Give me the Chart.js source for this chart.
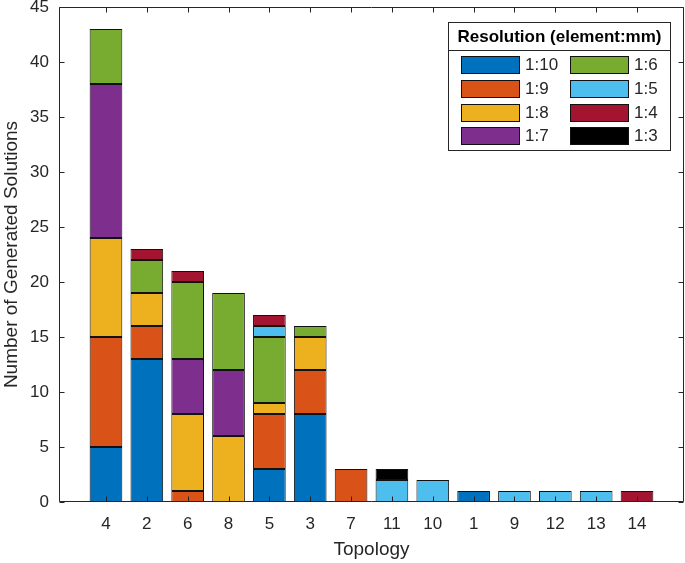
<!DOCTYPE html>
<html>
<head>
<meta charset="utf-8">
<script src="https://cdn.jsdelivr.net/npm/chart.js@4.4.1/dist/chart.umd.min.js"></script>
<style>
  html, body { margin: 0; padding: 0; background: #fff; }
  #wrap { width: 685px; height: 563px; }
</style>
</head>
<body>
<div id="wrap"><canvas id="chart" width="685" height="563"></canvas></div>
<script>
// topology order along the x axis
const topologies = ['4', '2', '6', '8', '5', '3', '7', '11', '10', '1', '9', '12', '13', '14'];

// number of generated solutions per resolution (element:mm), null = none
const res10 = [5, 13, null, null, 3, 8, null, null, null, 1, null, null, null, null];
const res9 = [10, 3, 1, null, 5, 4, 3, null, null, null, null, null, null, null];
const res8 = [9, 3, 7, 6, 1, 3, null, null, null, null, null, null, null, null];
const res7 = [14, null, 5, 6, null, null, null, null, null, null, null, null, null, null];
const res6 = [5, 3, 7, 7, 6, 1, null, null, null, null, null, null, null, null];
const res5 = [null, null, null, null, 1, null, null, 2, 2, null, 1, 1, 1, null];
const res4 = [null, 1, 1, null, 1, null, null, null, null, null, null, null, null, 1];
const res3 = [null, null, null, null, null, null, null, 1, null, null, null, null, null, null];

const seriesLabels = ['1:10', '1:9', '1:8', '1:7', '1:6', '1:5', '1:4', '1:3'];
const seriesColors = ['#0072BD', '#D95319', '#EDB120', '#7E2F8E', '#77AC30', '#4DBEEE', '#A2142F', '#000000'];
const seriesData = [res10, res9, res8, res7, res6, res5, res4, res3];

const yTicks = [0, 5, 10, 15, 20, 25, 30, 35, 40, 45];

const FONT = "'Liberation Sans', Arial, Helvetica, sans-serif";
const AXIS_COLOR = '#262626';
const EDGE_COLOR = '#111111';

const datasets = seriesData.map((values, s) => ({
  label: seriesLabels[s],
  data: values.map((v, i) => ({ x: i, y: v })),
  backgroundColor: seriesColors[s],
  borderColor: EDGE_COLOR,
  borderWidth: 1,
  borderSkipped: false,
  inflateAmount: 0,
  barPercentage: 0.8,
  categoryPercentage: 1,
}));

// box around the plot with inward ticks, MATLAB style
const boxPlugin = {
  id: 'box',
  afterDatasetsDraw(chart) {
    const ctx = chart.ctx;
    const a = chart.chartArea;
    const xs = chart.scales.x;
    const ys = chart.scales.y;
    const L = Math.round(a.left) + 0.5;
    const R = Math.round(a.right) - 0.5;
    const T = Math.round(a.top) + 0.5;
    const B = Math.round(a.bottom) - 0.5;
    const len = 5;
    ctx.save();
    ctx.strokeStyle = AXIS_COLOR;
    ctx.lineWidth = 1;
    ctx.beginPath();
    ctx.rect(L, T, R - L, B - T);
    topologies.forEach((_, i) => {
      const x = Math.round(xs.getPixelForValue(i)) + 0.5;
      ctx.moveTo(x, B); ctx.lineTo(x, B - len);
      ctx.moveTo(x, T); ctx.lineTo(x, T + len);
    });
    yTicks.forEach((v) => {
      const y = Math.round(ys.getPixelForValue(v)) + 0.5;
      ctx.moveTo(L, y); ctx.lineTo(L + len, y);
      ctx.moveTo(R, y); ctx.lineTo(R - len, y);
    });
    ctx.stroke();
    ctx.restore();
  },
};

// two-column legend box with a title
const legendPlugin = {
  id: 'boxLegend',
  afterDraw(chart) {
    const ctx = chart.ctx;
    const left = 448.5, top = 22.5, right = 670.5, bottom = 150.5;
    ctx.save();
    ctx.fillStyle = '#fff';
    ctx.fillRect(left, top, right - left, bottom - top);
    ctx.strokeStyle = AXIS_COLOR;
    ctx.lineWidth = 1;
    ctx.strokeRect(left, top, right - left, bottom - top);
    ctx.beginPath();
    ctx.moveTo(left, 50.5); ctx.lineTo(right, 50.5);
    ctx.stroke();

    ctx.fillStyle = '#000';
    ctx.font = 'bold 17px ' + FONT;
    ctx.textAlign = 'center';
    ctx.textBaseline = 'middle';
    ctx.fillText('Resolution (element:mm)', (left + right) / 2, 37);

    const rowTops = [56, 80, 104, 127];
    const colX = [461, 570];
    ctx.font = '17px ' + FONT;
    ctx.textAlign = 'left';
    chart.data.datasets.forEach((ds, k) => {
      const col = Math.floor(k / 4);
      const row = k % 4;
      const x = colX[col];
      const y = rowTops[row];
      ctx.fillStyle = ds.backgroundColor;
      ctx.fillRect(x + 0.5, y + 0.5, 58, 17);
      ctx.strokeStyle = EDGE_COLOR;
      ctx.strokeRect(x + 0.5, y + 0.5, 58, 17);
      ctx.fillStyle = AXIS_COLOR;
      ctx.fillText(ds.label, x + 64, y + 9.5);
    });
    ctx.restore();
  },
};

new Chart(document.getElementById('chart'), {
  type: 'bar',
  data: { datasets: datasets },
  options: {
    responsive: false,
    animation: false,
    layout: { padding: { top: 7, right: 1, left: 0, bottom: 0 } },
    plugins: {
      legend: { display: false },
      tooltip: { enabled: false },
    },
    scales: {
      x: {
        type: 'linear',
        stacked: true,
        min: -1.15,
        max: 14.15,
        offset: false,
        grid: { display: false, drawTicks: false },
        border: { display: false },
        afterBuildTicks: (scale) => {
          scale.ticks = topologies.map((_, i) => ({ value: i }));
        },
        afterFit: (scale) => {
          scale.height = 61;
          scale.paddingLeft = 0;
          scale.paddingRight = 0;
        },
        ticks: {
          autoSkip: false,
          maxRotation: 0,
          padding: 12,
          color: AXIS_COLOR,
          font: { family: FONT, size: 17 },
          callback: (v) => topologies[v],
        },
        title: {
          display: true,
          text: 'Topology',
          color: AXIS_COLOR,
          font: { family: FONT, size: 19 },
          padding: { top: 0, bottom: 2 },
        },
      },
      y: {
        stacked: true,
        min: 0,
        max: 45,
        grid: { display: false, drawTicks: false },
        border: { display: false },
        afterBuildTicks: (scale) => {
          scale.ticks = yTicks.map((v) => ({ value: v }));
        },
        afterFit: (scale) => {
          scale.width = 59;
          scale.paddingTop = 0;
          scale.paddingBottom = 0;
        },
        ticks: {
          padding: 10,
          color: AXIS_COLOR,
          font: { family: FONT, size: 17 },
        },
        title: {
          display: true,
          text: 'Number of Generated Solutions',
          color: AXIS_COLOR,
          font: { family: FONT, size: 19 },
          padding: { top: 0, bottom: 0 },
        },
      },
    },
  },
  plugins: [boxPlugin, legendPlugin],
});
</script>
</body>
</html>
